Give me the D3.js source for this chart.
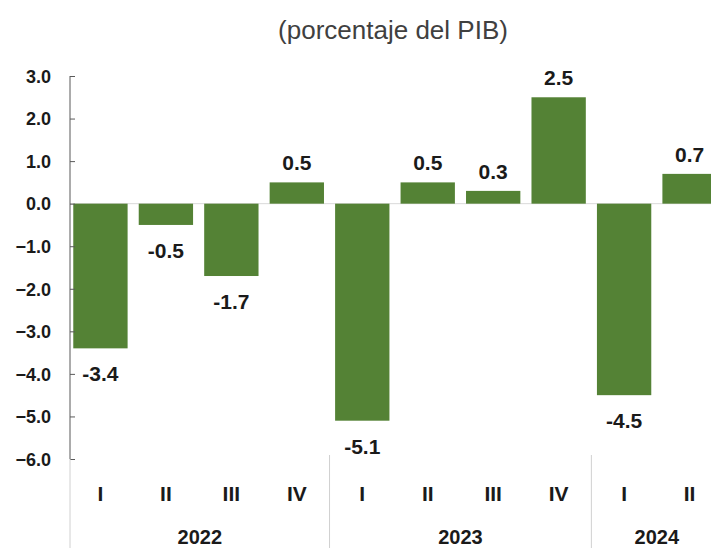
<!DOCTYPE html>
<html>
<head>
<meta charset="utf-8">
<script src="https://cdn.jsdelivr.net/npm/d3@7"></script>
<style>
body { margin: 0; background: #fff; }
text { font-family: "Liberation Sans", Arial, sans-serif; }
</style>
</head>
<body>
<svg id="chart" width="711" height="548"></svg>
<script>
// datos
var quarters = ["I", "II", "III", "IV", "I", "II", "III", "IV", "I", "II"];
var years = ["2022", "2022", "2022", "2022", "2023", "2023", "2023", "2023", "2024", "2024"];
var values = [-3.4, -0.5, -1.7, 0.5, -5.1, 0.5, 0.3, 2.5, -4.5, 0.7];
var yTicks = [3, 2, 1, 0, -1, -2, -3, -4, -5, -6];

var svg = d3.select("#chart");
var green = "#548235";

var x = d3.scaleBand()
    .domain(d3.range(values.length))
    .range([70, 720])
    .paddingInner(0.17)
    .paddingOuter(0.05);

var y = d3.scaleLinear()
    .domain([-6, 3])
    .range([459, 76]);

// titulo
svg.append("text")
    .attr("x", 393)
    .attr("y", 39)
    .attr("text-anchor", "middle")
    .style("font-size", "26px")
    .style("fill", "#404040")
    .text("(porcentaje del PIB)");

// linea del cero
svg.append("line")
    .attr("x1", 70).attr("x2", 711)
    .attr("y1", y(0)).attr("y2", y(0))
    .style("stroke", "#d9d9d9")
    .style("stroke-width", 1);

// barras
svg.selectAll("rect.bar")
    .data(values)
    .enter().append("rect")
    .attr("class", "bar")
    .attr("x", function(d, i) { return x(i); })
    .attr("width", x.bandwidth())
    .attr("y", function(d) { return d > 0 ? y(d) : y(0); })
    .attr("height", function(d) { return Math.abs(y(d) - y(0)); })
    .style("fill", green);

// etiquetas de valor
svg.selectAll("text.val")
    .data(values)
    .enter().append("text")
    .attr("class", "val")
    .attr("x", function(d, i) { return x(i) + x.bandwidth() / 2; })
    .attr("y", function(d) { return d > 0 ? y(d) - 12 : y(d) + 33; })
    .attr("text-anchor", "middle")
    .style("font-size", "21px")
    .style("font-weight", "bold")
    .style("fill", "#1a1a1a")
    .text(function(d) { return d.toFixed(1); });

// eje y
var yAxis = d3.axisRight(y)
    .tickValues(yTicks)
    .tickSize(5)
    .tickFormat(d3.format(".1f"));

var gy = svg.append("g")
    .attr("transform", "translate(70,0)")
    .call(yAxis);
gy.select(".domain").remove();
gy.append("line")
    .attr("y1", y(3)).attr("y2", y(-6))
    .style("stroke", "#595959");
gy.selectAll(".tick line").style("stroke", "#595959");
gy.selectAll(".tick text")
    .attr("x", -19)
    .attr("dy", "0.35em")
    .attr("text-anchor", "end")
    .style("font-size", "18px")
    .style("font-weight", "bold")
    .style("fill", "#1a1a1a")
    .style("font-family", "'Liberation Sans', Arial, sans-serif");

// eje x: trimestres
svg.selectAll("text.q")
    .data(quarters)
    .enter().append("text")
    .attr("class", "q")
    .attr("x", function(d, i) { return x(i) + x.bandwidth() / 2; })
    .attr("y", 501)
    .attr("text-anchor", "middle")
    .style("font-size", "21px")
    .style("font-weight", "bold")
    .style("fill", "#1a1a1a")
    .text(function(d) { return d; });

// años y separadores
var yearNames = Array.from(new Set(years));
var step = x.step();
var x0 = x.range()[0];
var groups = yearNames.map(function(yr) {
    var idx = years.map(function(v, i) { return v === yr ? i : -1; }).filter(function(i) { return i >= 0; });
    return { year: yr, start: idx[0], end: idx[idx.length - 1] };
});

function edge(i) { return x(i) - x.paddingInner() * step / 2; }

svg.selectAll("line.sep")
    .data(groups)
    .enter().append("line")
    .attr("class", "sep")
    .attr("x1", function(d) { return d.start === 0 ? x0 : edge(d.start); })
    .attr("x2", function(d) { return d.start === 0 ? x0 : edge(d.start); })
    .attr("y1", function(d) { return d.start === 0 ? y(-6) : 455; })
    .attr("y2", 548)
    .style("stroke", "#d0d0d0");

svg.selectAll("text.yr")
    .data(groups)
    .enter().append("text")
    .attr("class", "yr")
    .attr("x", function(d) {
        var a = d.start === 0 ? x0 : edge(d.start);
        var b = d.end === values.length - 1 ? edge(d.end) + step : edge(d.end + 1);
        return (a + b) / 2;
    })
    .attr("y", 544)
    .attr("text-anchor", "middle")
    .style("font-size", "20px")
    .style("font-weight", "bold")
    .style("fill", "#1a1a1a")
    .text(function(d) { return d.year; });
</script>
</body>
</html>
